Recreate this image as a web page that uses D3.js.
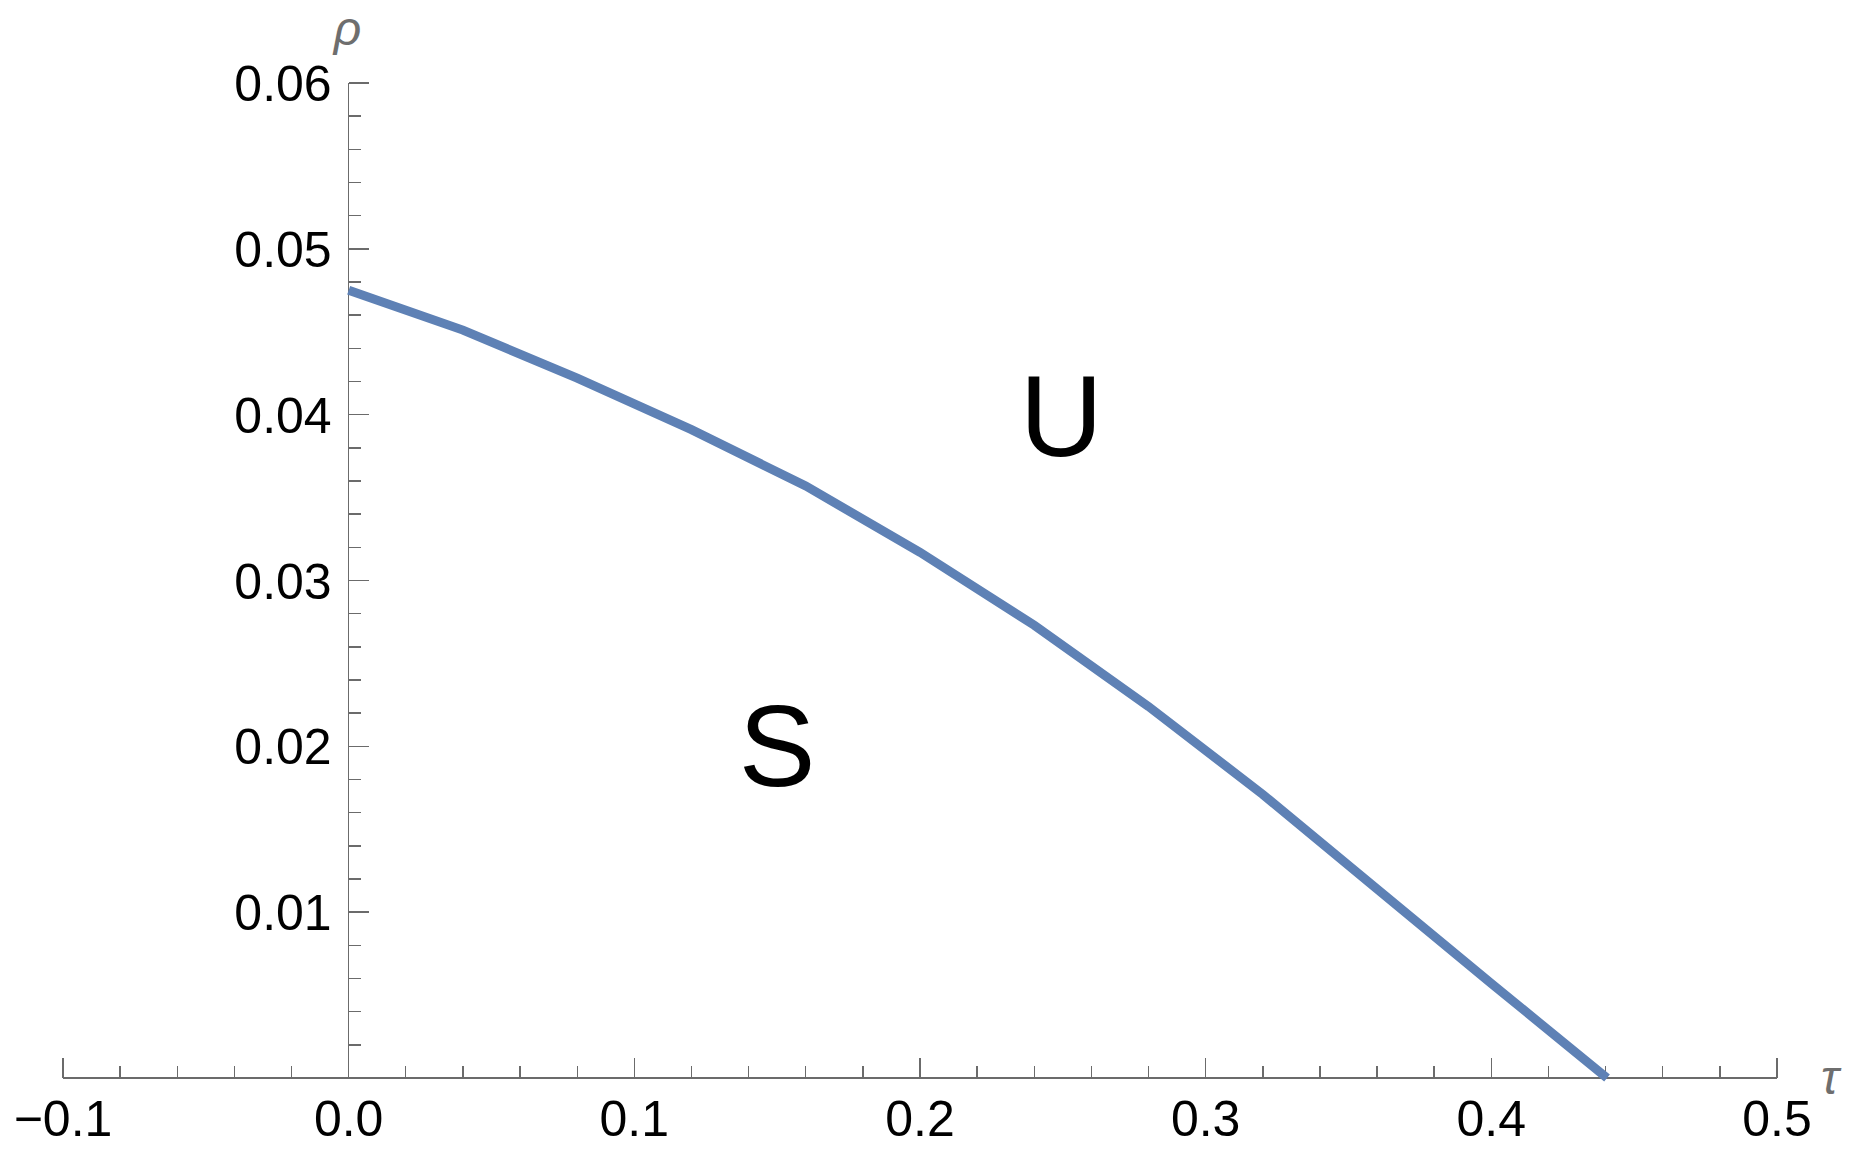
<!DOCTYPE html>
<meta charset="utf-8">
<style>

body {
  margin: 0;
  background: #fff;
}

.axis-line,
.tick line {
  stroke: #6b6b6b;
  stroke-width: 1.4px;
  shape-rendering: crispEdges;
}

.tick text {
  font-family: "Liberation Sans", Arial, sans-serif;
  font-size: 50px;
  fill: #000;
}

.axis-label {
  font-family: "Liberation Sans", Arial, sans-serif;
  font-style: italic;
  font-size: 48px;
  fill: #6e6e6e;
}

.region {
  font-family: "Liberation Sans", Arial, sans-serif;
  font-size: 115px;
  fill: #000;
}

.curve {
  fill: none;
  stroke: #5e81b5;
  stroke-width: 9px;
}

</style>
<svg width="1860" height="1157"></svg>
<script src="https://d3js.org/d3.v7.min.js"></script>
<script>

// boundary curve
var tau = [0, 0.04, 0.08, 0.12, 0.16, 0.20, 0.24, 0.28, 0.32, 0.36, 0.40, 0.4405];
var rho = [0.0475, 0.0451, 0.0422, 0.0391, 0.0357, 0.0317, 0.0273, 0.0224, 0.0171, 0.0114, 0.0057, 0.0];

var xTicks = [-0.1, 0.0, 0.1, 0.2, 0.3, 0.4, 0.5];
var yTicks = [0.01, 0.02, 0.03, 0.04, 0.05, 0.06];

var regionLabels = ["U", "S"];
var regionPos = [[0.2495, 0.0400], [0.1500, 0.0201]];

var svg = d3.select("svg");

var x = d3.scaleLinear()
    .domain([-0.1, 0.5])
    .range([63, 1777]);

var y = d3.scaleLinear()
    .domain([0, 0.06])
    .range([1078, 83]);

var major = 20, minor = 12;

// x axis
var gx = svg.append("g")
    .attr("transform", "translate(0," + y(0) + ")");

gx.append("line")
    .attr("class", "axis-line")
    .attr("x1", x(-0.1))
    .attr("x2", x(0.5));

var xMinor = d3.range(-0.1, 0.5001, 0.02).map(function(d) { return +d.toFixed(2); });

gx.selectAll(".tick")
    .data(xMinor)
  .enter().append("g")
    .attr("class", "tick")
    .attr("transform", function(d) { return "translate(" + x(d) + ",0)"; })
  .append("line")
    .attr("y2", function(d) { return xTicks.some(function(t) { return Math.abs(t - d) < 1e-9; }) ? -major : -minor; });

gx.selectAll(".xlabel")
    .data(xTicks)
  .enter().append("g")
    .attr("class", "tick")
  .append("text")
    .attr("x", function(d) { return x(d); })
    .attr("y", 58)
    .attr("text-anchor", "middle")
    .text(function(d) { return d < 0 ? "\u2212" + d3.format(".1f")(-d) : d3.format(".1f")(d); });

// y axis
var gy = svg.append("g")
    .attr("transform", "translate(" + x(0) + ",0)");

gy.append("line")
    .attr("class", "axis-line")
    .attr("y1", y(0))
    .attr("y2", y(0.06));

var yMinor = d3.range(0.002, 0.0601, 0.002).map(function(d) { return +d.toFixed(3); });

gy.selectAll(".tick")
    .data(yMinor)
  .enter().append("g")
    .attr("class", "tick")
    .attr("transform", function(d) { return "translate(0," + y(d) + ")"; })
  .append("line")
    .attr("x2", function(d) { return yTicks.some(function(t) { return Math.abs(t - d) < 1e-9; }) ? major : minor; });

gy.selectAll(".ylabel")
    .data(yTicks)
  .enter().append("g")
    .attr("class", "tick")
  .append("text")
    .attr("x", -17)
    .attr("y", function(d) { return y(d); })
    .attr("dy", "0.36em")
    .attr("text-anchor", "end")
    .text(d3.format(".2f"));

// axis labels
svg.append("text")
    .attr("class", "axis-label")
    .attr("x", x(0) - 15)
    .attr("y", y(0.06) - 38)
    .text("\u03C1");

svg.append("text")
    .attr("class", "axis-label")
    .attr("x", x(0.5) + 44)
    .attr("y", y(0) + 16)
    .text("\u03C4");

// curve
var line = d3.line()
    .x(function(d) { return x(d[0]); })
    .y(function(d) { return y(d[1]); });

svg.append("path")
    .datum(d3.zip(tau, rho))
    .attr("class", "curve")
    .attr("d", line);

// region labels
svg.selectAll(".region")
    .data(d3.zip(regionLabels, regionPos))
  .enter().append("text")
    .attr("class", "region")
    .attr("x", function(d) { return x(d[1][0]); })
    .attr("y", function(d) { return y(d[1][1]); })
    .attr("dy", "0.36em")
    .attr("text-anchor", "middle")
    .text(function(d) { return d[0]; });

</script>
